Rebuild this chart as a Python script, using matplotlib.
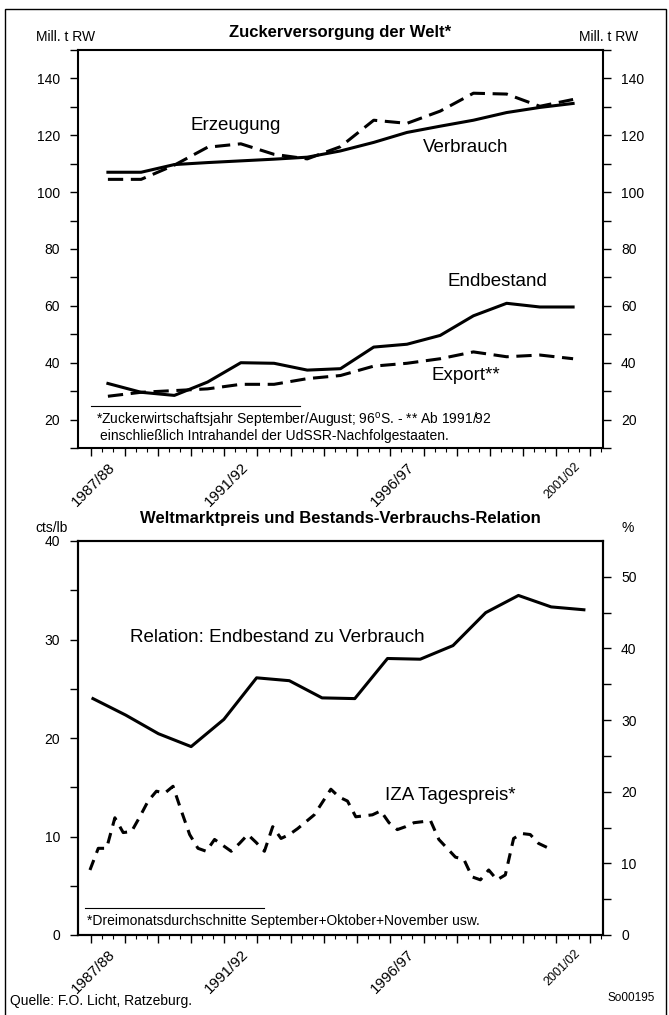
import matplotlib
matplotlib.use("Agg")
import matplotlib.pyplot as plt
from matplotlib.patches import Rectangle
from matplotlib.lines import Line2D
from matplotlib.ticker import FixedLocator
import numpy as np

plt.rcParams['font.family'] = ['Liberation Sans', 'DejaVu Sans']
plt.rcParams['mathtext.fontset'] = 'custom'
plt.rcParams['mathtext.rm'] = 'Liberation Sans'

# ---------------- data ----------------
years = ["1987/88", "1988/89", "1989/90", "1990/91", "1991/92", "1992/93", "1993/94",
         "1994/95", "1995/96", "1996/97", "1997/98", "1998/99", "1999/00", "2000/01", "2001/02"]
labelled_years = ["1987/88", "1991/92", "1996/97", "2001/02"]

# Mill. t RW
erzeugung = [104.5, 104.5, 109.5, 115.8, 117.0, 113.3, 111.7, 116.0, 125.3, 124.2,
             128.5, 134.8, 134.5, 130.2, 132.6]
verbrauch = [107.0, 107.0, 109.7, 110.4, 111.0, 111.6, 112.3, 114.5, 117.5, 121.0,
             123.2, 125.3, 128.0, 129.8, 131.2]
endbestand = [32.7, 29.6, 28.5, 33.2, 40.0, 39.8, 37.4, 37.9, 45.5, 46.5,
              49.6, 56.5, 60.9, 59.6, 59.6]
export_ = [28.2, 29.6, 30.2, 30.8, 32.4, 32.4, 34.4, 35.5, 38.8, 39.8,
           41.4, 43.8, 42.1, 42.7, 41.4]

# Relation Endbestand zu Verbrauch (%), 1986/87 .. 2001/02
relation_years = ["1986/87"] + years
relation = [33.0, 30.7, 28.1, 26.3, 30.1, 35.9, 35.5, 33.1, 33.0, 38.6, 38.5, 40.4,
            45.0, 47.4, 45.8, 45.4]

# IZA Tagespreis, Dreimonatsdurchschnitte (cts/lb), ab Sep-Nov 1987
price = [6.6, 8.8, 8.8, 11.9, 10.4, 10.5, 12.0, 13.6, 14.6, 14.4, 15.1, 12.6,
         10.2, 8.8, 8.5, 9.7, 9.1, 8.5, 9.3, 10.2, 9.4, 8.5, 11.0, 9.8,
         10.2, 10.8, 11.5, 12.2, 13.5, 14.8, 14.0, 13.6, 12.0, 12.1, 12.2, 12.6,
         11.4, 10.7, 11.0, 11.4, 11.5, 11.6, 9.7, 8.8, 7.9, 7.7, 5.9, 5.6,
         6.6, 5.6, 6.1, 9.8, 10.3, 10.2, 9.3, 8.9]

# ---------------- layout ----------------
W, H = 669, 1015
fig = plt.figure(figsize=(W / 100, H / 100), dpi=100)

def px_axes(left, top, right, bottom):
    return fig.add_axes([left / W, 1 - bottom / H, (right - left) / W, (bottom - top) / H])

def ftext(x, y, s, **kw):
    fig.text(x / W, 1 - y / H, s, **kw)

XLIM = (-0.9, 14.9)
REL_START, REL_STEP = -0.45, 0.985   # relation series placement
PRICE_START = -0.54       # first three-month average
PRICE_STEP = 0.25         # quarterly
LW = 2.2
ANN = 13.5

x_year = np.arange(len(years))
x_rel = REL_START + REL_STEP * np.arange(len(relation))
x_price = PRICE_START + PRICE_STEP * np.arange(len(price))
label_pos = [years.index(y) + 0.3 for y in labelled_years]


def style_xaxis(ax):
    ax.set_xlim(*XLIM)
    ax.xaxis.set_major_locator(FixedLocator(np.arange(-0.5, len(years), 1.0)))
    ax.xaxis.set_minor_locator(FixedLocator(np.arange(-0.5, len(years), 1 / 3)))
    ax.tick_params(axis='x', which='major', length=6, width=1, bottom=True, top=False,
                   labelbottom=False, direction='out')
    ax.tick_params(axis='x', which='minor', length=3, width=0.8, bottom=True, top=False,
                   direction='out')
    sec = ax.secondary_xaxis('bottom')
    sec.set_xticks(label_pos, labelled_years)
    sec.tick_params(length=0, pad=9, labelsize=11)
    sec.spines['bottom'].set_visible(False)
    for i, lab in enumerate(sec.get_xticklabels()):
        lab.set_rotation(45)
        lab.set_ha('right')
        lab.set_va('top')
        if i == len(labelled_years) - 1:
            lab.set_fontsize(9)
    for sp in ax.spines.values():
        sp.set_linewidth(1.5)


# ---------------- top chart ----------------
ax1 = px_axes(78, 50, 603, 448)
ax1.plot(x_year, verbrauch, color='black', lw=LW, solid_joinstyle='round')
ax1.plot(x_year, erzeugung, color='black', lw=LW, dashes=(5, 2.5))
ax1.plot(x_year, endbestand, color='black', lw=LW, solid_joinstyle='round')
ax1.plot(x_year, export_, color='black', lw=LW, dashes=(5, 2.5))
ax1.set_ylim(10, 150)
ax1.yaxis.set_major_locator(FixedLocator(range(20, 141, 20)))
ax1.yaxis.set_minor_locator(FixedLocator(range(10, 151, 10)))
ax1.tick_params(axis='y', which='both', left=True, right=True, labelleft=True,
                labelright=True, direction='out', length=6, width=1, labelsize=10, pad=7)
style_xaxis(ax1)

ax1.add_line(Line2D([(91 - 78) / 525, (300 - 78) / 525], [(448 - 406) / 398] * 2,
                    transform=ax1.transAxes, color='black', lw=0.8))
ax1.text((96 - 78) / 525, (448 - 421) / 398,
         "*Zuckerwirtschaftsjahr September/August; 96$^{\\mathrm{o}}$S. - ** Ab 1991/92",
         transform=ax1.transAxes, va='center', ha='left', fontsize=10)
ax1.text((100 - 78) / 525, (448 - 436) / 398,
         "einschließlich Intrahandel der UdSSR-Nachfolgestaaten.",
         transform=ax1.transAxes, va='center', ha='left', fontsize=10)

ftext(340, 33, "Zuckerversorgung der Welt*", ha='center', va='center',
      fontsize=12, fontweight='bold')
ftext(66, 37, "Mill. t RW", ha='center', va='center', fontsize=10)
ftext(609, 37, "Mill. t RW", ha='center', va='center', fontsize=10)
ftext(236, 126, "Erzeugung", ha='center', va='center', fontsize=ANN)
ftext(466, 147, "Verbrauch", ha='center', va='center', fontsize=ANN)
ftext(497, 282, "Endbestand", ha='center', va='center', fontsize=ANN)
ftext(466, 376, "Export**", ha='center', va='center', fontsize=ANN)

# ---------------- bottom chart ----------------
ax2 = px_axes(78, 541, 603, 935)
ax2.plot(x_price, price, color='black', lw=LW, dashes=(3.5, 2.5))
ax2.set_ylim(0, 40)
ax2.yaxis.set_major_locator(FixedLocator(range(0, 41, 10)))
ax2.yaxis.set_minor_locator(FixedLocator(range(5, 40, 5)))
ax2.tick_params(axis='y', which='both', left=True, right=False, direction='out',
                length=6, width=1, labelsize=10, pad=7)
style_xaxis(ax2)

ax2r = ax2.twinx()
ax2r.plot(x_rel, relation, color='black', lw=LW, solid_joinstyle='round')
ax2r.set_ylim(0, 55)
ax2r.yaxis.set_major_locator(FixedLocator(range(0, 51, 10)))
ax2r.yaxis.set_minor_locator(FixedLocator(range(5, 55, 5)))
ax2r.tick_params(axis='y', which='both', right=True, direction='out', length=6,
                 width=1, labelsize=10, pad=7)
for sp in ax2r.spines.values():
    sp.set_linewidth(1.5)

ax2.add_line(Line2D([(85 - 78) / 525, (264 - 78) / 525], [(935 - 908) / 394] * 2,
                    transform=ax2.transAxes, color='black', lw=0.8))
ax2.text((87 - 78) / 525, (935 - 921) / 394,
         "*Dreimonatsdurchschnitte September+Oktober+November usw.",
         transform=ax2.transAxes, va='center', ha='left', fontsize=10)

ftext(340, 519, "Weltmarktpreis und Bestands-Verbrauchs-Relation", ha='center',
      va='center', fontsize=12, fontweight='bold')
ftext(52, 528, "cts/lb", ha='center', va='center', fontsize=10)
ftext(628, 528, "%", ha='center', va='center', fontsize=10)
ftext(277, 637, "Relation: Endbestand zu Verbrauch", ha='center', va='center', fontsize=ANN)
ftext(450, 795, "IZA Tagespreis*", ha='center', va='center', fontsize=ANN)

ftext(10, 1001, "Quelle: F.O. Licht, Ratzeburg.", ha='left', va='center', fontsize=10)
ftext(655, 998, "So00195", ha='right', va='center', fontsize=8.5)

# outer frame
fig.add_artist(Rectangle((5 / W, -0.02), 661 / W, 1 - 9 / H + 0.02, fill=False,
                         lw=1.0, edgecolor='black', transform=fig.transFigure))

fig.savefig("out.png", dpi=100)
